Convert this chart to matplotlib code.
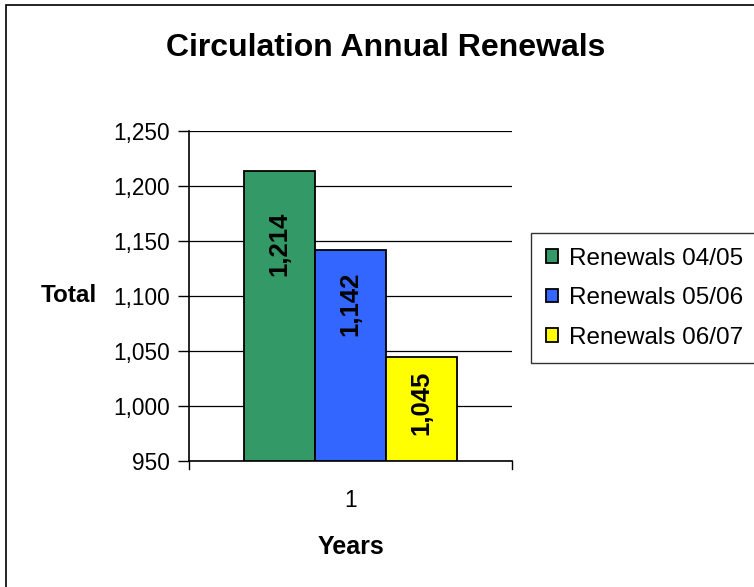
import matplotlib.pyplot as plt
from matplotlib.patches import Rectangle
import numpy as np

plt.rcParams['font.family'] = ['Liberation Sans', 'DejaVu Sans']

# data
series = ['Renewals 04/05', 'Renewals 05/06', 'Renewals 06/07']
values = [1214, 1142, 1045]
colors = ['#339966', '#3366ff', '#ffff00']
labels = ['1,214', '1,142', '1,045']
label_drop = [67, 49, 42]   # how far down the bar each label sits
yticks = [950, 1000, 1050, 1100, 1150, 1200, 1250]

fig = plt.figure(figsize=(7.54, 5.87), dpi=100)
# outer chart border
fig.patches.append(Rectangle((6 / 754, -0.05), 1.0, 1.05 - 5 / 587, transform=fig.transFigure,
                             fill=False, edgecolor='black', linewidth=1.2))

ax = fig.add_axes([189 / 754, 126 / 587, 323 / 754, 330 / 587])

w = 0.22
offsets = [-w, 0, w]
for i in range(3):
    ax.bar(1 + offsets[i], values[i] - 950, bottom=950, width=w, color=colors[i],
           edgecolor='black', linewidth=1.3, label=series[i], zorder=3)
    ax.text(1 + offsets[i], values[i] - label_drop[i], labels[i], rotation=90,
            ha='center', va='center', fontsize=18.5, fontweight='bold', zorder=4)

ax.set_xlim(0.5, 1.5)
ax.set_ylim(950, 1250)
ax.set_yticks(yticks)
ax.set_yticklabels(['{:,}'.format(t) for t in yticks], fontsize=16.3)
ax.yaxis.grid(True, color='black', linewidth=0.9, zorder=0)
ax.tick_params(axis='y', direction='out', length=8, width=1, pad=6)

ax.set_xticks([1])
ax.set_xticklabels(['1'], fontsize=16.3)
ax.tick_params(axis='x', length=0, pad=20)
# category boundary ticks
for xb in [0.5, 1.5]:
    ax.plot([xb, xb], [0, -0.025], transform=ax.get_xaxis_transform(), color='black',
            linewidth=1, clip_on=False)

for s in ['top', 'right']:
    ax.spines[s].set_visible(False)
ax.spines['left'].set_linewidth(1.2)
ax.spines['bottom'].set_linewidth(1.2)

ax.set_ylabel('Total', fontsize=17.5, fontweight='bold', rotation=0, ha='right', va='center')
ax.yaxis.set_label_coords(-0.285, 0.5)
ax.set_xlabel('Years', fontsize=18, fontweight='bold', labelpad=17)

fig.text(386 / 754, 1 - 48 / 587, 'Circulation Annual Renewals', ha='center', va='center',
         fontsize=23, fontweight='bold')

leg = ax.legend(loc='upper left', bbox_to_anchor=(531 / 754, 1 - 233 / 587),
                bbox_transform=fig.transFigure, fontsize=17.5, frameon=True, fancybox=False,
                handlelength=0.5, handleheight=0.5, handletextpad=0.45, borderpad=0.6,
                labelspacing=0.72, borderaxespad=0)
leg.get_frame().set_edgecolor('black')
leg.get_frame().set_linewidth(1)

fig.savefig('out.png', dpi=100)
